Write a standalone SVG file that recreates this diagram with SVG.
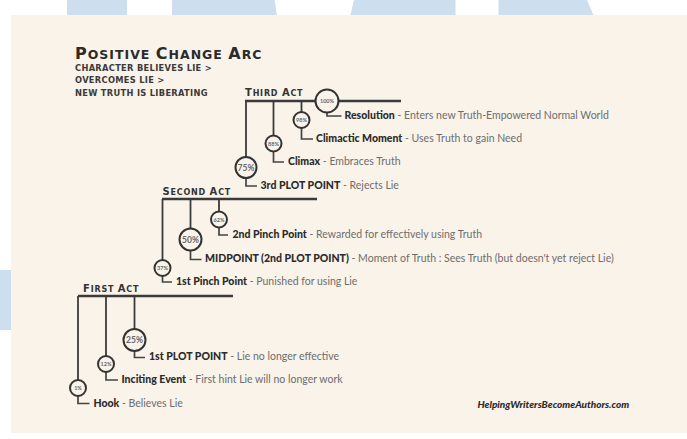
<svg xmlns="http://www.w3.org/2000/svg" width="687" height="439" viewBox="0 0 687 439">
<style>
.bg{fill:#cddfee}
.panel{fill:#faf3e9}
.act{stroke:#3a3a3a;stroke-width:2.5;fill:none}
.drop{stroke:#3a3a3a;stroke-width:1.8;fill:none}
.ell{stroke:#444;stroke-width:1.7;fill:none}
.ring{stroke:#333;stroke-width:2;fill:#faf3e9}
.pct{font-family:Lato,"Liberation Sans",sans-serif;font-weight:700;fill:#666;text-anchor:middle}
.lbl{font-family:Lato,"Liberation Sans",sans-serif;font-size:10.5px;font-weight:900;fill:#2b2b2b}
.desc{font-weight:400;fill:#6d6d6d}
.actlbl{font-family:"DejaVu Sans",sans-serif;font-weight:700;fill:#333;letter-spacing:0.8px}
.big{font-size:10px}
.sm{font-size:8px}
.title{font-family:"DejaVu Sans",sans-serif;font-weight:700;fill:#2b2b2b;letter-spacing:1px}
.sub{font-family:"DejaVu Sans",sans-serif;font-weight:700;font-size:8.3px;fill:#3a3a3a;letter-spacing:0.3px}
.web{font-family:Lato,"Liberation Sans",sans-serif;font-weight:900;font-style:italic;font-size:10px;fill:#2b2b2b}
</style>
<rect x="0" y="0" width="687" height="439" fill="#ffffff"/>
<g id="background">
<polygon class="bg" points="67,0 127,0 127,15 67,15"/>
<polygon class="bg" points="172,0 274.6,0 276.8,15 172,15"/>
<polygon class="bg" points="354,0 455.5,0 455.5,15 350.4,15"/>
<polygon class="bg" points="498.5,0 587,0 593.5,15 498.5,15"/>
<rect class="bg" x="0" y="270" width="11" height="60"/>
<rect class="panel" x="11" y="15" width="676" height="418"/>
</g>
<g id="title">
<text class="title" x="75" y="59"><tspan font-size="16">P</tspan><tspan font-size="12.5">OSITIVE </tspan><tspan font-size="16">C</tspan><tspan font-size="12.5">HANGE </tspan><tspan font-size="16">A</tspan><tspan font-size="12.5">RC</tspan></text>
<text class="sub" x="75" y="70.5">CHARACTER BELIEVES LIE &gt;</text>
<text class="sub" x="75" y="83">OVERCOMES LIE &gt;</text>
<text class="sub" x="75" y="95.5">NEW TRUTH IS LIBERATING</text>
</g>
<g id="third-act">
<text class="actlbl" x="245" y="96"><tspan class="big">T</tspan><tspan class="sm">HIRD </tspan><tspan class="big">A</tspan><tspan class="sm">CT</tspan></text>
<line class="act" x1="245" y1="101" x2="401" y2="101"/>
</g>
<g id="second-act">
<text class="actlbl" x="162.5" y="195"><tspan class="big">S</tspan><tspan class="sm">ECOND </tspan><tspan class="big">A</tspan><tspan class="sm">CT</tspan></text>
<line class="act" x1="162" y1="199" x2="317" y2="199"/>
</g>
<g id="first-act">
<text class="actlbl" x="83" y="291.5"><tspan class="big">F</tspan><tspan class="sm">IRST </tspan><tspan class="big">A</tspan><tspan class="sm">CT</tspan></text>
<line class="act" x1="78" y1="296" x2="233" y2="296"/>
</g>
<g id="connectors">
<line class="drop" x1="246" y1="101" x2="246" y2="157"/>
<line class="drop" x1="273.5" y1="101" x2="273.5" y2="135.5"/>
<line class="drop" x1="301.5" y1="101" x2="301.5" y2="112"/>
<line class="drop" x1="162.5" y1="199" x2="162.5" y2="260"/>
<line class="drop" x1="190.5" y1="199" x2="190.5" y2="228.5"/>
<line class="drop" x1="219" y1="199" x2="219" y2="211.5"/>
<line class="drop" x1="78" y1="296" x2="78" y2="380"/>
<line class="drop" x1="106" y1="296" x2="106" y2="356"/>
<line class="drop" x1="134.5" y1="296" x2="134.5" y2="329"/>
<polyline class="ell" points="327,112.5 327,116 341.5,116"/>
<polyline class="ell" points="301.5,128 301.5,139 313,139"/>
<polyline class="ell" points="273.5,151.5 273.5,162 284,162"/>
<polyline class="ell" points="246,178 246,186 257,186"/>
<polyline class="ell" points="219,227.5 219,235 228,235"/>
<polyline class="ell" points="190.5,250.5 190.5,259.5 201.5,259.5"/>
<polyline class="ell" points="162.5,276 162.5,282 172,282"/>
<polyline class="ell" points="134.5,351 134.5,357.5 145,357.5"/>
<polyline class="ell" points="106,372 106,380 118,380"/>
<polyline class="ell" points="78,396 78,403.5 89.5,403.5"/>
</g>
<g id="resolution">
<circle class="ring" cx="327" cy="101" r="11.5"/>
<text class="pct" x="327" y="103" font-size="5.5">100%</text>
<text class="lbl" x="344.5" y="118.5">Resolution<tspan class="desc"> - Enters new Truth-Empowered Normal World</tspan></text>
</g>
<g id="climactic-moment">
<circle class="ring" cx="301.5" cy="120" r="8"/>
<text class="pct" x="301.5" y="122" font-size="5.5">98%</text>
<text class="lbl" x="316" y="142">Climactic Moment<tspan class="desc"> - Uses Truth to gain Need</tspan></text>
</g>
<g id="climax">
<circle class="ring" cx="273.5" cy="143.5" r="8"/>
<text class="pct" x="273.5" y="145.5" font-size="5.5">88%</text>
<text class="lbl" x="288" y="165">Climax<tspan class="desc"> - Embraces Truth</tspan></text>
</g>
<g id="third-plot-point">
<circle class="ring" cx="246" cy="167.5" r="10.5"/>
<text class="pct" x="246" y="170.5" font-size="8.5">75%</text>
<text class="lbl" x="260.5" y="189">3rd PLOT POINT<tspan class="desc"> - Rejects Lie</tspan></text>
</g>
<g id="second-pinch-point">
<circle class="ring" cx="219" cy="219.5" r="8"/>
<text class="pct" x="219" y="221.5" font-size="5.5">62%</text>
<text class="lbl" x="232.5" y="237.5">2nd Pinch Point<tspan class="desc"> - Rewarded for effectively using Truth</tspan></text>
</g>
<g id="midpoint">
<circle class="ring" cx="190.5" cy="239.5" r="11"/>
<text class="pct" x="190.5" y="242.5" font-size="8.5">50%</text>
<text class="lbl" x="205" y="262">MIDPOINT (2nd PLOT POINT)<tspan class="desc"> - Moment of Truth : Sees Truth (but doesn't yet reject Lie)</tspan></text>
</g>
<g id="first-pinch-point">
<circle class="ring" cx="162.5" cy="268" r="8"/>
<text class="pct" x="162.5" y="270" font-size="5.5">37%</text>
<text class="lbl" x="176" y="285">1st Pinch Point<tspan class="desc"> - Punished for using Lie</tspan></text>
</g>
<g id="first-plot-point">
<circle class="ring" cx="134.5" cy="340" r="11"/>
<text class="pct" x="134.5" y="343" font-size="8.5">25%</text>
<text class="lbl" x="149" y="360">1st PLOT POINT<tspan class="desc"> - Lie no longer effective</tspan></text>
</g>
<g id="inciting-event">
<circle class="ring" cx="106" cy="364" r="8"/>
<text class="pct" x="106" y="366" font-size="5.5">12%</text>
<text class="lbl" x="121.5" y="383">Inciting Event<tspan class="desc"> - First hint Lie will no longer work</tspan></text>
</g>
<g id="hook">
<circle class="ring" cx="78" cy="388" r="8"/>
<text class="pct" x="78" y="390" font-size="5.5">1%</text>
<text class="lbl" x="93.5" y="406.5">Hook<tspan class="desc"> - Believes Lie</tspan></text>
</g>
<g id="credit">
<text class="web" x="477.5" y="407.5">HelpingWritersBecomeAuthors.com</text>
</g>
</svg>
